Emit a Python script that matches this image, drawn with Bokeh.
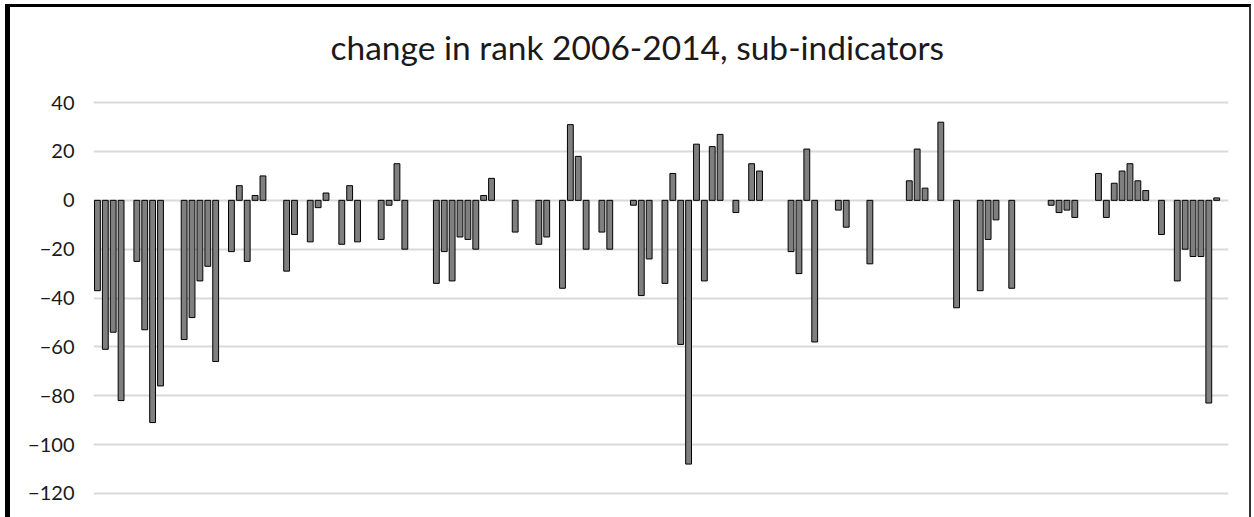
from bokeh.plotting import figure
from bokeh.models import ColumnDataSource, FixedTicker, Range1d
from bokeh.embed import file_html
from bokeh.resources import INLINE

title_text = "change in rank 2006-2014, sub-indicators"

# change in rank per sub-indicator (None = no bar for that slot)
change = [-37, -61, -54, -82, None, -25, -53, -91, -76, None, None,
          -57, -48, -33, -27, -66, None, -21, 6, -25, 2, 10, None, None,
          -29, -14, None, -17, -3, 3, None, -18, 6, -17, None, None,
          -16, -2, 15, -20, None, None, None,
          -34, -21, -33, -15, -16, -20, 2, 9, None, None, -13, None, None,
          -18, -15, None, -36, 31, 18, -20, None, -13, -20, None, None,
          -2, -39, -24, None, -34, 11, -59, -108, 23, -33, 22, 27, None,
          -5, None, 15, 12, None, None, None, -21, -30, 21, -58, None, None,
          -4, -11, None, None, -26, None, None, None, None,
          8, 21, 5, None, 32, None, -44, None, None, -37, -16, -8, None,
          -36, None, None, None, None, -2, -5, -4, -7, None, None,
          11, -7, 7, 12, 15, 8, 4, None, -14, None,
          -33, -20, -23, -23, -83, 1, None]

y_ticks = [-120, -100, -80, -60, -40, -20, 0, 20, 40]

slots = list(range(len(change)))
xs = [i for i, v in zip(slots, change) if v is not None]
vals = [v for v in change if v is not None]
src = ColumnDataSource(data=dict(x=xs, top=vals))

p = figure(width=1246, height=513, output_backend="svg", toolbar_location=None,
           x_range=Range1d(-0.5, len(change) - 0.5),
           y_range=Range1d(-131.1, 49.89),
           min_border_left=83, min_border_right=28, min_border_top=71,
           min_border_bottom=0)

p.vbar(x="x", top="top", bottom=0, width=0.74, source=src,
       fill_color="#7f7f7f", line_color="#000000", line_width=1)

p.title.text = title_text
p.title.align = "left"
p.title.offset = 237
p.title.text_font = "Lato"
p.title.text_font_size = "33.5px"
p.title.text_font_style = "normal"
p.title.text_color = "#1a1a1a"
p.title.standoff = 23

p.xaxis.visible = False
p.yaxis.ticker = FixedTicker(ticks=y_ticks)
p.yaxis.axis_line_color = None
p.yaxis.major_tick_line_color = None
p.yaxis.minor_tick_line_color = None
p.yaxis.major_label_text_font = "Lato"
p.yaxis.major_label_text_font_size = "20px"
p.yaxis.major_label_text_color = "#1a1a1a"
p.yaxis.major_label_standoff = 13

p.xgrid.visible = False
p.ygrid.ticker = FixedTicker(ticks=y_ticks)
p.ygrid.grid_line_color = "#d9d9d9"
p.ygrid.grid_line_width = 2
p.outline_line_color = None

p.margin = (4, 0, 0, 5)
p.styles = {"border-left": "5px solid black", "border-top": "3px solid black",
            "border-right": "2px solid #333333", "box-sizing": "border-box"}

open("out.html", "w").write(file_html(p, INLINE))
